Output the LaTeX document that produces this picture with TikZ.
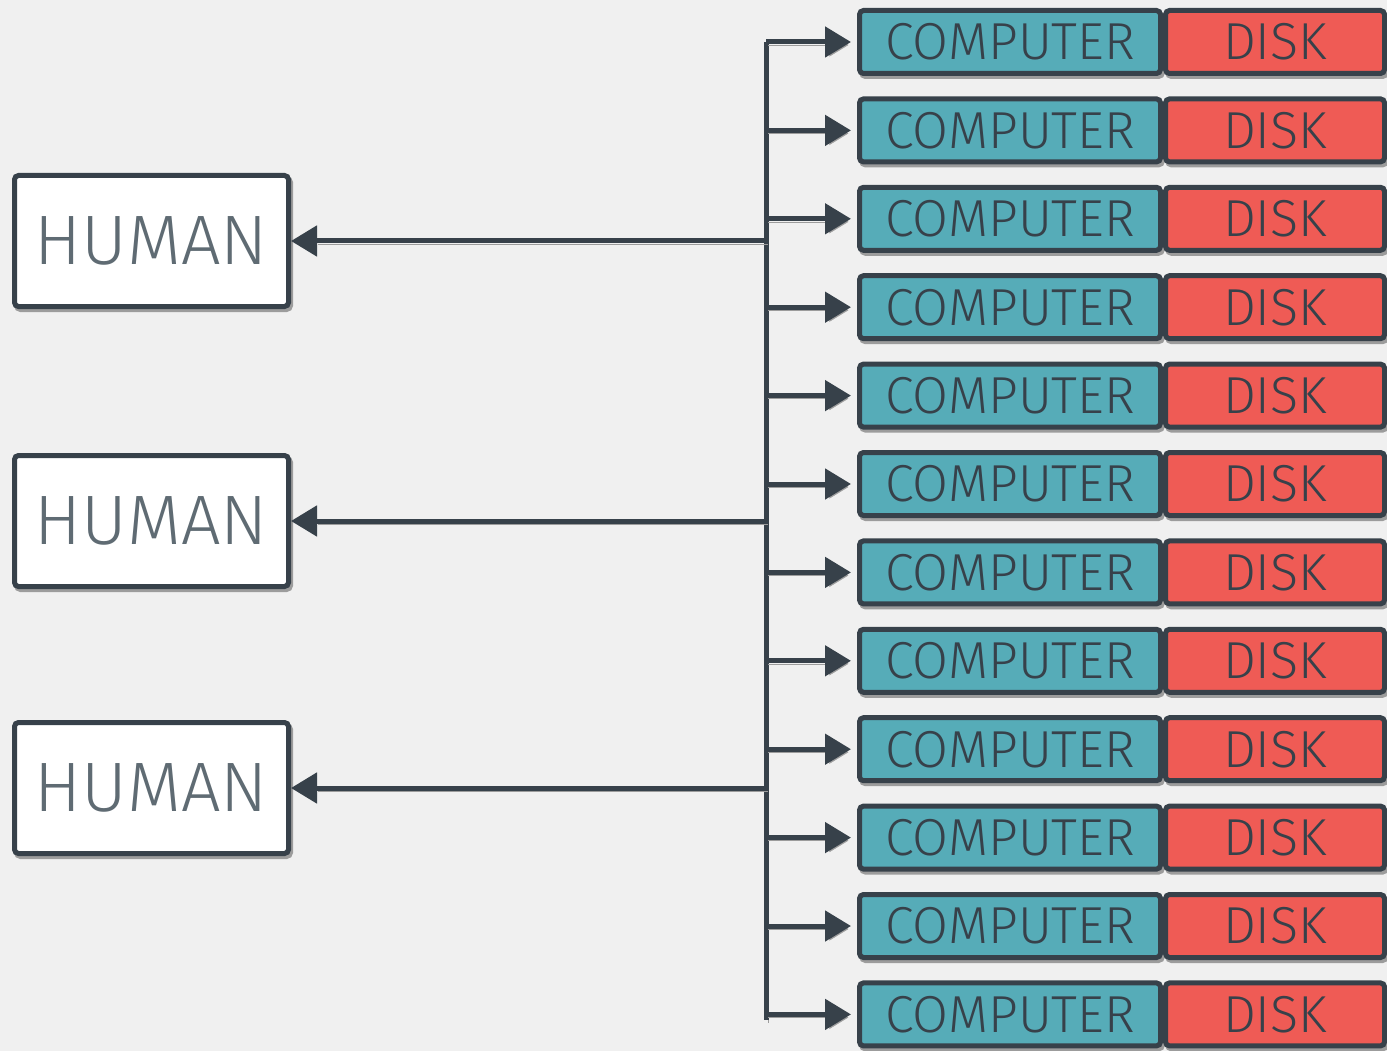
\documentclass[tikz,border=0pt]{standalone}
\usepackage{fontspec}
\setmainfont{Fira Sans Light}
\usetikzlibrary{arrows.meta}
\definecolor{bg}{HTML}{F0F0F0}
\definecolor{ink}{HTML}{37414A}
\definecolor{teal}{HTML}{56ACB8}
\definecolor{coral}{HTML}{EF5B55}
\definecolor{humantext}{HTML}{5F6B73}
\definecolor{shade}{HTML}{9C9C9C}
\tikzset{
  boxshadow/.style={preaction={fill=shade, draw=shade, transform canvas={xshift=2pt,yshift=-3pt}}},
  base/.style={draw=ink, line width=5pt, rounded corners=4pt, inner sep=0pt, boxshadow},
  computer/.style={base, fill=teal, minimum width=301pt, minimum height=63pt,
    font=\fontsize{52}{52}\selectfont, text=ink},
  disk/.style={base, fill=coral, minimum width=219pt, minimum height=63pt,
    font=\fontsize{52}{52}\selectfont, text=ink, anchor=west},
  human/.style={base, fill=white, minimum width=274pt, minimum height=131pt,
    font=\fontsize{70}{70}\selectfont, text=humantext},
  link/.style={draw=ink, line width=5pt, -{Triangle[length=26pt,width=30pt]},
    preaction={draw=shade, transform canvas={xshift=2pt,yshift=-3pt}}},
  trunk/.style={draw=ink, line width=5pt,
    preaction={draw=shade, transform canvas={xshift=2pt,yshift=-3pt}}},
}
\begin{document}
\begin{tikzpicture}[x=1pt,y=-1pt]
  % canvas
  \fill[bg] (0,0) rectangle (1387,1051);
  \useasboundingbox (0,0) rectangle (1387,1051);

  % humans
  \node[human] (h1) at (151.5,241) {HUMAN};
  \node[human] (h2) at (151.5,521) {HUMAN};
  \node[human] (h3) at (151.5,788) {HUMAN};

  % computer + disk rows
  \foreach \i in {1,...,12} {
    \pgfmathsetmacro{\yy}{42+88.4*(\i-1)}
    \node[computer] (c\i) at (1010,\yy) {COMPUTER};
    \node[disk] (d\i) at (c\i.east) {DISK};
  }

  % trunk line
  \coordinate (top) at (766,42);
  \coordinate (bot) at (766,1020);
  \draw[trunk] (top) -- (bot);

  % branches to the computers
  \foreach \i in {1,...,12} {
    \coordinate (t\i) at (top |- c\i.west);
    \draw[link] (t\i) -- ([xshift=-6pt]c\i.west);
  }

  % branches to the humans
  \foreach \i in {1,2,3} {
    \coordinate (g\i) at (top |- h\i.east);
    \draw[link] (g\i) -- (h\i.east);
  }
\end{tikzpicture}
\end{document}
